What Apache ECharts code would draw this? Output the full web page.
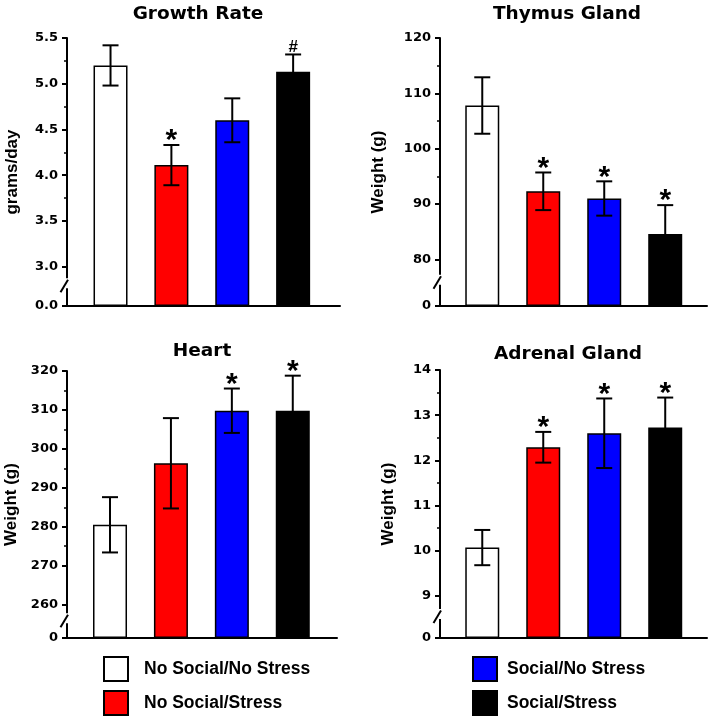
<!DOCTYPE html>
<html>
<head>
<meta charset="utf-8">
<script src="https://cdn.jsdelivr.net/npm/echarts@6/dist/echarts.min.js"></script>
<style>html,body{margin:0;padding:0;background:#fff}#c{width:709px;height:716px}</style>
</head>
<body>
<div id="c"></div>
<script>
// ---- data ----
const categories = ['No Social/No Stress', 'No Social/Stress', 'Social/No Stress', 'Social/Stress'];

const growthRate = [5.20, 4.11, 4.60, 5.13];
const growthRateErr = [0.22, 0.22, 0.24, 0.19];
const growthRateMarks = ['', '*', '', '#'];

const thymus = [107.8, 92.3, 91.0, 84.6];
const thymusErr = [5.1, 3.4, 3.1, 5.2];
const thymusMarks = ['', '*', '*', '*'];

const heart = [280.5, 296.3, 309.8, 309.8];
const heartErr = [7.1, 11.6, 5.7, 9.0];
const heartMarks = ['', '', '*', '*'];

const adrenal = [10.07, 12.29, 12.60, 12.73];
const adrenalErr = [0.39, 0.34, 0.77, 0.66];
const adrenalMarks = ['', '*', '*', '*'];

// y-axis ticks: [max, interval, break end]  (axes start at 0)
const growthTicks = [5.5, 0.5, 3.0];
const thymusTicks = [120, 10, 80];
const heartTicks = [320, 10, 260];
const adrenalTicks = [14, 1, 9];

const panelTitles = ['Growth Rate', 'Thymus Gland', 'Heart', 'Adrenal Gland'];
const axisNames = ['grams/day', 'Weight (g)', 'Weight (g)', 'Weight (g)'];

// ---- styling / layout ----
const barColors = ['#ffffff', '#ff0000', '#0000ff', '#000000'];
const panels = [
  { vals: growthRate, errs: growthRateErr, marks: growthRateMarks, ticks: growthTicks, dec: 1,
    grid: { left: 67, top: 38, width: 273, height: 268 }, xr: [-0.715, 3.77], gap: '14.7%', nameGap: 46,
    title: { x: 193, y: 0 } },
  { vals: thymus, errs: thymusErr, marks: thymusMarks, ticks: thymusTicks, dec: 0,
    grid: { left: 440, top: 38, width: 267, height: 268 }, xr: [-0.693, 3.685], gap: '17.4%', nameGap: 53,
    title: { x: 562, y: 0 } },
  { vals: heart, errs: heartErr, marks: heartMarks, ticks: heartTicks, dec: 0,
    grid: { left: 67, top: 371, width: 270, height: 267 }, xr: [-0.706, 3.726], gap: '12.5%', nameGap: 47,
    title: { x: 197, y: 337 } },
  { vals: adrenal, errs: adrenalErr, marks: adrenalMarks, ticks: adrenalTicks, dec: 0,
    grid: { left: 440, top: 370, width: 267, height: 268 }, xr: [-0.693, 3.685], gap: '15.7%', nameGap: 43,
    title: { x: 563, y: 340 } }
];

const tickFont = 'DejaVu Sans';
const mainFont = 'Liberation Sans';

const legendText = (padLeft) => ({ fontFamily: mainFont, fontWeight: 'bold', fontSize: 17.5, color: '#000', padding: [0, 0, 0, padLeft] });

const option = {
  animation: false,
  backgroundColor: '#fff',
  title: panels.map((p, k) => ({
    text: panelTitles[k], left: p.title.x, top: p.title.y, textAlign: 'center',
    textStyle: { fontFamily: tickFont, fontWeight: 'bold', fontSize: 18.5, color: '#000' }
  })),
  legend: [
    { data: categories.slice(0, 2), left: 103, top: 656, padding: 0, orient: 'vertical', itemWidth: 24, itemHeight: 24, itemGap: 8,
      icon: 'rect', selectedMode: false, textStyle: legendText(11) },
    { data: categories.slice(2, 4), left: 472, top: 656, padding: 0, orient: 'vertical', itemWidth: 24, itemHeight: 24, itemGap: 8,
      icon: 'rect', selectedMode: false, textStyle: legendText(5) }
  ],
  grid: panels.map(p => p.grid),
  xAxis: panels.map((p, k) => ({
    type: 'value', gridIndex: k, min: p.xr[0], max: p.xr[1],
    axisLine: { show: true, onZero: false, lineStyle: { color: '#000', width: 2 } },
    axisTick: { show: false }, axisLabel: { show: false }, splitLine: { show: false }
  })),
  yAxis: panels.map((p, k) => ({
    type: 'value', gridIndex: k, min: 0, max: p.ticks[0], interval: p.ticks[1],
    breaks: [{ start: 0, end: p.ticks[2], gap: p.gap }],
    breakArea: { show: false },
    name: axisNames[k], nameLocation: 'middle', nameRotate: 90, nameGap: p.nameGap,
    nameTextStyle: { fontFamily: mainFont, fontWeight: 'bold', fontSize: 17, color: '#000' },
    axisLine: { show: true, onZero: false, lineStyle: { color: '#000', width: 2 } },
    axisTick: { show: true, length: 5, lineStyle: { color: '#000', width: 2 } },
    minorTick: { show: true, splitNumber: 2, length: 3, lineStyle: { color: '#000', width: 1.5 } },
    axisLabel: { margin: 9, color: '#000', fontFamily: tickFont, fontWeight: 'bold', fontSize: 13,
      formatter: v => v.toFixed(p.dec) },
    splitLine: { show: false }
  })),
  series: []
};

panels.forEach((p, k) => {
  categories.forEach((c, i) => {
    option.series.push({
      type: 'bar', name: c, xAxisIndex: k, yAxisIndex: k, stack: 'p' + k,
      barWidth: 34,
      itemStyle: { color: barColors[i], borderColor: '#000', borderWidth: 1.5 },
      data: [[i, p.vals[i]]], z: 2
    });
  });
  // error bars and significance marks
  option.series.push({
    type: 'custom', xAxisIndex: k, yAxisIndex: k, z: 5,
    encode: { x: 0, y: 1 },
    data: p.vals.map((v, i) => [i, v, p.errs[i]]),
    renderItem: (params, api) => {
      const x = api.value(0), v = api.value(1), e = api.value(2);
      const hi = api.coord([x, v + e]);
      const lo = api.coord([x, v - e]);
      const cw = 8;
      const style = { stroke: '#000', lineWidth: 2 };
      const ch = [
        { type: 'line', shape: { x1: hi[0], y1: hi[1], x2: lo[0], y2: lo[1] }, style },
        { type: 'line', shape: { x1: hi[0] - cw, y1: hi[1], x2: hi[0] + cw, y2: hi[1] }, style },
        { type: 'line', shape: { x1: lo[0] - cw, y1: lo[1], x2: lo[0] + cw, y2: lo[1] }, style }
      ];
      const m = p.marks[params.dataIndex];
      if (m === '*') {
        ch.push({ type: 'text', x: hi[0], y: hi[1] + 11,
          style: { text: '*', fill: '#000', font: 'bold 30px "Liberation Sans"', align: 'center', verticalAlign: 'bottom' } });
      } else if (m === '#') {
        ch.push({ type: 'text', x: hi[0], y: hi[1] + 1,
          style: { text: '#', fill: '#000', font: 'bold 17px "Liberation Sans"', align: 'center', verticalAlign: 'bottom' } });
      }
      return { type: 'group', children: ch };
    }
  });
  // axis break mark: axis segments through the break gap plus the slash
  option.series.push({
    type: 'custom', xAxisIndex: k, yAxisIndex: k, z: 6, silent: true,
    data: [[p.xr[0], p.ticks[2]]],
    renderItem: (params, api) => {
      const top = api.coord([api.value(0), api.value(1)]);
      const bot = api.coord([api.value(0), 0]);
      const ax = top[0];
      const ym = (top[1] + bot[1]) / 2;
      const s = { stroke: '#000', lineWidth: 2 };
      return { type: 'group', children: [
        { type: 'line', shape: { x1: ax, y1: top[1], x2: ax, y2: ym - 8 }, style: s },
        { type: 'line', shape: { x1: ax, y1: ym + 2, x2: ax, y2: bot[1] }, style: s },
        { type: 'line', shape: { x1: ax - 6.5, y1: ym + 6, x2: ax + 1, y2: ym - 6.5 }, style: s }
      ] };
    }
  });
});

const chart = echarts.init(document.getElementById('c'), null, { renderer: 'canvas' });
chart.setOption(option);
</script>
</body>
</html>
